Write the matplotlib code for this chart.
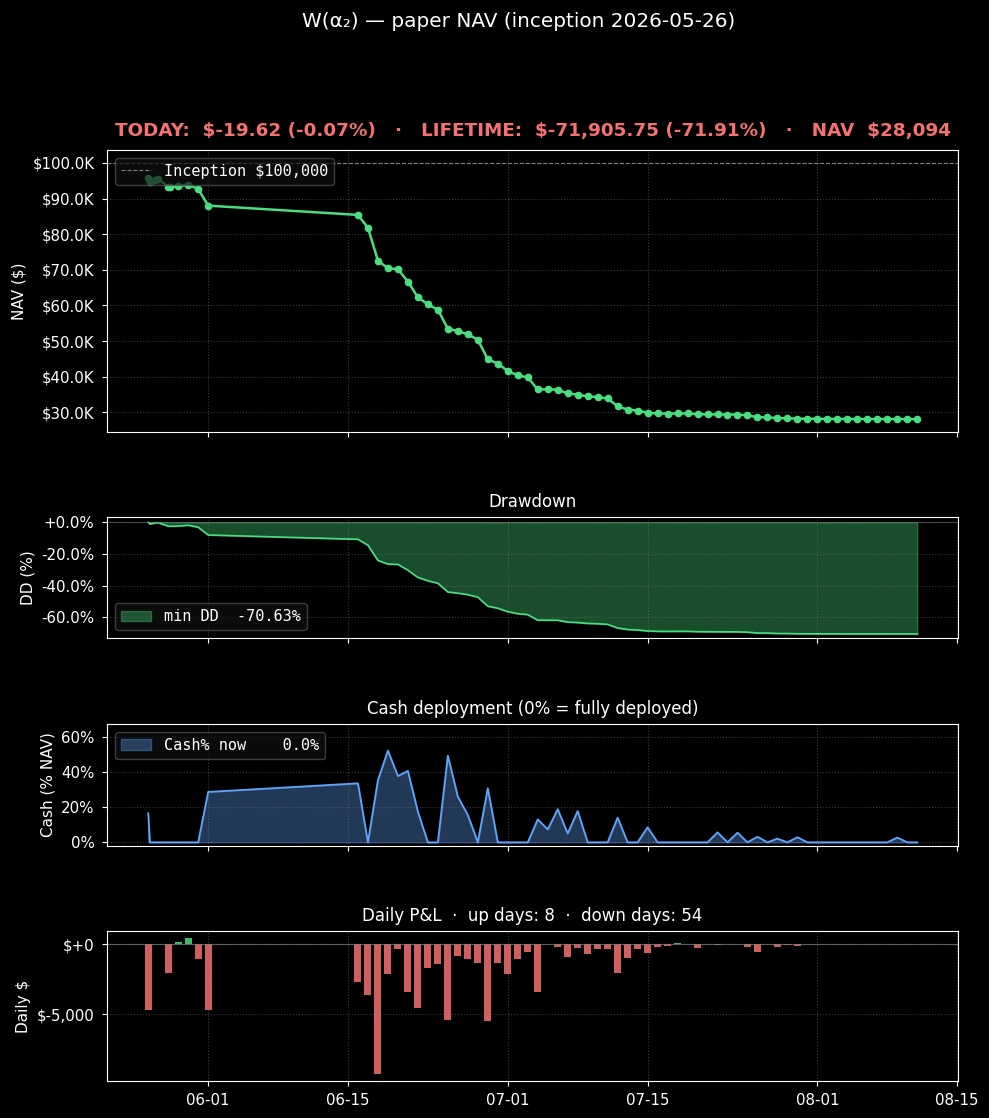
import numpy as np
import pandas as pd
import matplotlib
matplotlib.use("Agg")
import matplotlib.pyplot as plt
import matplotlib.dates as mdates
from matplotlib.ticker import FuncFormatter, MultipleLocator

# --- values ---
INCEPTION = 100000.0

early_times = ["2026-05-26 00:00", "2026-05-26 04:00", "2026-05-26 16:00", "2026-05-27 00:00",
               "2026-05-28 00:00", "2026-05-28 04:00", "2026-05-29 00:00", "2026-05-30 00:00",
               "2026-05-31 00:00", "2026-06-01 00:00"]
early_nav = [95655, 94600, 95250, 95450, 93350, 93300, 93400, 93900, 92700, 88000]
early_cash = [16.6, 0, 0, 0, 0, 0, 0, 0, 0, 28.8]

# daily marks 06-16 .. 08-11
daily_nav = [85400, 81800, 72600, 70400, 70200, 66700, 62300, 60300, 58800, 53500,
             52800, 51900, 50400, 44900, 43700, 41600, 40400, 39800, 36450, 36450,
             36400, 35300, 35000, 34500, 34300, 33900, 31700, 30800, 30500, 29900,
             29700, 29650, 29700, 29700, 29500, 29450, 29420, 29400, 29380, 29200,
             28650, 28620, 28400, 28350, 28250, 28200, 28190, 28170, 28172, 28150,
             28130, 28133, 28135, 28137, 28120, 28113.87, 28094.25]
daily_cash = [33.7, 0, 35.6, 52.4, 37.9, 40.8, 17.5, 0, 0, 49.5,
              26.1, 15.6, 0, 30.9, 0, 0, 0, 0, 13.1, 7.4,
              18.9, 5.1, 17.9, 0, 0, 0, 14.1, 0, 0, 8.6,
              0, 0, 0, 0, 0, 0, 5.7, 0, 5.5, 0,
              3.2, 0, 2.1, 0, 2.9, 0, 0, 0, 0, 0,
              0, 0, 0, 0, 2.7, 0, 0]

pnl_dates = (["2026-05-26", "2026-05-28", "2026-05-29", "2026-05-30", "2026-05-31", "2026-06-01"]
             + [d.strftime("%Y-%m-%d") for d in pd.date_range("2026-06-16", "2026-07-04")]
             + [d.strftime("%Y-%m-%d") for d in pd.date_range("2026-07-06", "2026-08-11")])
pnl_vals = [-4690, -2050, 170, 450, -1050, -4690,
            -2690, -3620, -9260, -2120, -330, -3400, -4550, -1690, -1400, -5400,
            -830, -1050, -1330, -5480, -1330, -2120, -1050, -550, -3400,
            -190, -900, -260, -690, -330, -330, -2050, -980, -330, -620,
            -190, -120, 95, 6, -260, 4, -30, -25, -25, -190,
            -550, -20, -190, -30, -120, -20, 5, -20, 3, -25,
            -20, 4, -3, -4, -20, -15, -19.62]

GREEN = "#4ade80"
RED = "#f87171"
BLUE = "#60a5fa"

daily_times = [d.strftime("%Y-%m-%d 00:00") for d in pd.date_range("2026-06-16", "2026-08-11")]
times = pd.to_datetime(early_times + daily_times, format="%Y-%m-%d %H:%M")
nav = pd.Series(early_nav + daily_nav, index=times)
cash = pd.Series(early_cash + daily_cash, index=times)
dd = (nav / nav.cummax() - 1) * 100
pnl = pd.Series(pnl_vals, index=pd.to_datetime(pnl_dates, format="%Y-%m-%d"))

plt.style.use("dark_background")
fig = plt.figure(figsize=(9.89, 11.18), dpi=100)
L, W = 0.1082, 0.8605
ax1 = fig.add_axes([L, 0.6136, W, 0.2522])
ax2 = fig.add_axes([L, 0.4293, W, 0.1083], sharex=ax1)
ax3 = fig.add_axes([L, 0.2433, W, 0.1091], sharex=ax1)
ax4 = fig.add_axes([L, 0.0331, W, 0.1342], sharex=ax1)

mono = {"family": "DejaVu Sans Mono", "size": 11}
leg_kw = dict(prop=mono, facecolor="#111111", edgecolor="#555555", framealpha=0.7)

# 1. NAV
ax1.axhline(INCEPTION, color="gray", ls="--", lw=0.8, label=f"Inception ${INCEPTION:,.0f}")
ax1.plot(nav.index, nav.values, color=GREEN, lw=1.8, marker="o", ms=4.5)
ax1.set_ylim(24500, 103600)
ax1.yaxis.set_major_formatter(FuncFormatter(lambda v, p: f"${v/1e3:.1f}K"))
ax1.set_ylabel("NAV ($)")
today = pnl.iloc[-1]
today_pct = today / (nav.iloc[-1] - today) * 100
life = nav.iloc[-1] - INCEPTION
ax1.set_title(f"TODAY:  ${today:,.2f} ({today_pct:+.2f}%)   ·   LIFETIME:  ${life:,.2f} ({life/INCEPTION*100:.2f}%)"
              f"   ·   NAV  ${nav.iloc[-1]:,.0f}", color=RED, fontweight="bold", fontsize=13.2, pad=10)
ax1.legend(loc="upper left", **leg_kw)

# 2. Drawdown
ax2.fill_between(dd.index, dd.values, 0, color=GREEN, alpha=0.35, label=f"min DD  {dd.min():.2f}%")
ax2.plot(dd.index, dd.values, color=GREEN, lw=1.2)
ax2.axhline(0, color="gray", lw=0.6, alpha=0.6)
ax2.set_ylim(-73.2, 3.4)
ax2.yaxis.set_major_formatter(FuncFormatter(lambda v, p: f"{v:+.1f}%"))
ax2.set_ylabel("DD (%)")
ax2.set_title("Drawdown", fontsize=12, pad=7)
ax2.legend(loc="lower left", **leg_kw)

# 3. Cash
ax3.fill_between(cash.index, cash.values, 0, color=BLUE, alpha=0.35, label=f"Cash% now {cash.iloc[-1]:6.1f}%")
ax3.plot(cash.index, cash.values, color=BLUE, lw=1.3)
ax3.set_ylim(-2.1, 67.6)
ax3.yaxis.set_major_locator(MultipleLocator(20))
ax3.yaxis.set_major_formatter(FuncFormatter(lambda v, p: f"{v:.0f}%"))
ax3.set_ylabel("Cash (% NAV)")
ax3.set_title("Cash deployment (0% = fully deployed)", fontsize=12, pad=7)
ax3.legend(loc="upper left", **leg_kw)

# 4. Daily P&L
colors = [GREEN if v > 0 else RED for v in pnl.values]
ax4.bar(pnl.index, pnl.values, width=0.7, color=colors, alpha=0.85)
ax4.axhline(0, color="gray", lw=0.8, alpha=0.7)
ax4.yaxis.set_major_locator(MultipleLocator(5000))
ax4.yaxis.set_major_formatter(FuncFormatter(lambda v, p: f"${v:+,.0f}"))
ax4.set_ylabel("Daily $")
ups = int((pnl > 0).sum())
downs = int((pnl < 0).sum())
ax4.set_title(f"Daily P&L  ·  up days: {ups}  ·  down days: {downs}", fontsize=12, pad=7)

for ax in (ax1, ax2, ax3, ax4):
    ax.grid(True, ls=":", color="gray", alpha=0.45)
    ax.tick_params(labelsize=10.8, pad=5.5)
    ax.yaxis.label.set_size(11)
    for s in ax.spines.values():
        s.set_color("white")
for ax in (ax1, ax2, ax3):
    plt.setp(ax.get_xticklabels(), visible=False)

ax4.xaxis.set_major_locator(mdates.DayLocator(bymonthday=[1, 15]))
ax4.xaxis.set_major_formatter(mdates.DateFormatter("%m-%d"))
ax4.set_xlim(pd.Timestamp("2026-05-21 21:00"), pd.Timestamp("2026-08-15 02:00"))

fig.suptitle("W(α₂) — paper NAV (inception 2026-05-26)", fontsize=14.4, x=0.524, y=0.9895)
fig.savefig("out.png", dpi=100, facecolor="black")
